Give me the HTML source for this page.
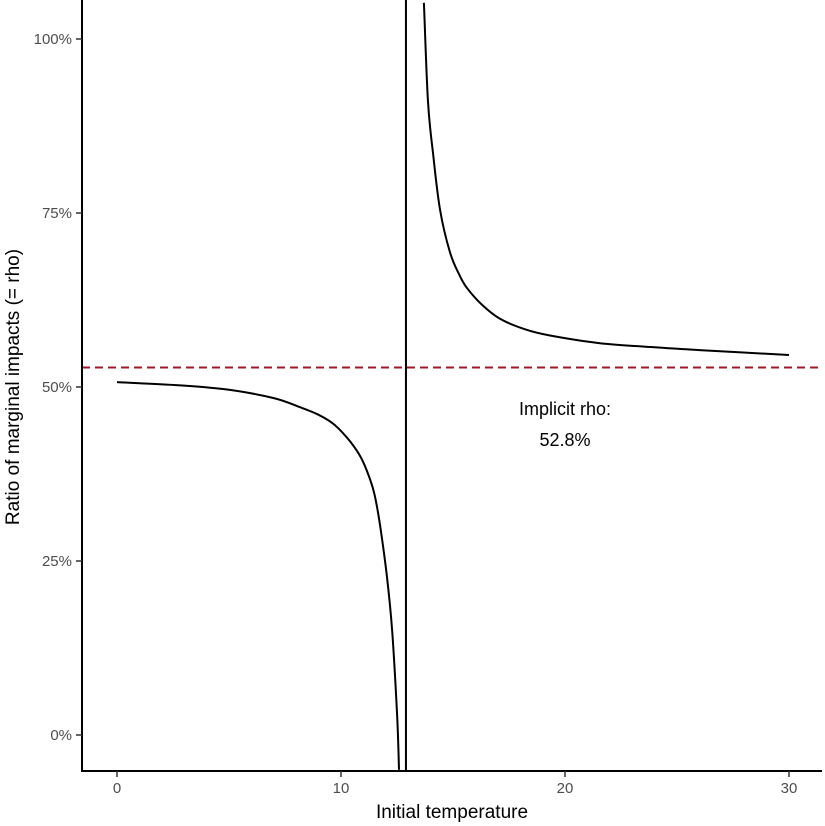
<!DOCTYPE html>
<html><head><meta charset="utf-8"><style>
body{margin:0;background:#fff;}
svg{display:block;font-family:"Liberation Sans",Arial,sans-serif;}
</style></head><body>
<svg id="chart" width="825" height="826" viewBox="0 0 825 826" xmlns="http://www.w3.org/2000/svg">
<defs><clipPath id="plotclip"><rect x="82" y="0" width="740" height="771"/></clipPath></defs>
<g id="marks" clip-path="url(#plotclip)"></g>
<g id="axes"></g>
</svg>
<script>
const leftT = [0, 3, 5, 7, 8.17, 9, 9.7, 10.4, 10.9, 11.29, 11.5, 11.74, 12.05, 12.28, 12.5, 12.59];
const leftRho = [50.7, 50.2, 49.6, 48.4, 47.1, 46.0, 44.6, 42.2, 39.8, 36.8, 34.5, 30.2, 22.8, 15.1, 3.2, -5.0];
const rightT = [13.7, 13.88, 14.11, 14.42, 14.87, 15.3, 15.63, 16.3, 17.1, 18.2, 19.33, 21.56, 24, 26.0, 30];
const rightRho = [105.2, 91.2, 83.5, 75.5, 69.3, 66.0, 64.2, 61.8, 59.8, 58.3, 57.4, 56.3, 55.7, 55.3, 54.6];
const asymptoteT = [12.9];
const implicitRho = [52.8];
const xTicks = [0, 10, 20, 30];
const yTicks = [0, 25, 50, 75, 100];

const NS = "http://www.w3.org/2000/svg";
const xs = t => 117 + t * 22.4;
const ys = p => 735 - p * 6.96;
function mk(tag, attrs, parent, text){
  const e = document.createElementNS(NS, tag);
  for (const k in attrs) e.setAttribute(k, attrs[k]);
  if (text !== undefined) e.textContent = text;
  parent.appendChild(e); return e;
}
const marks = document.getElementById('marks');
const axes = document.getElementById('axes');

function smoothPath(pts){
  let d = 'M' + pts[0][0].toFixed(1) + ',' + pts[0][1].toFixed(1);
  for (let i = 0; i < pts.length - 1; i++){
    const p0 = pts[Math.max(0,i-1)], p1 = pts[i], p2 = pts[i+1], p3 = pts[Math.min(pts.length-1,i+2)];
    const c1x = p1[0] + (p2[0]-p0[0])/6, c1y = p1[1] + (p2[1]-p0[1])/6;
    const c2x = p2[0] - (p3[0]-p1[0])/6, c2y = p2[1] - (p3[1]-p1[1])/6;
    d += ' C' + c1x.toFixed(1)+','+c1y.toFixed(1)+' '+c2x.toFixed(1)+','+c2y.toFixed(1)+' '+p2[0].toFixed(1)+','+p2[1].toFixed(1);
  }
  return d;
}
function curve(T, R, name){
  const pts = T.map((t,i)=>[xs(t), ys(R[i])]);
  const p = mk('path',{d:smoothPath(pts),fill:'none',stroke:'#000','stroke-width':2,'stroke-linejoin':'round'},marks);
  
  
}
curve(leftT, leftRho, 'rho-curve-left');
curve(rightT, rightRho, 'rho-curve-right');

const vl = mk('line',{x1:xs(asymptoteT[0]),x2:xs(asymptoteT[0]),y1:0,y2:771,stroke:'#000','stroke-width':2},marks);


const hl = mk('line',{x1:82,x2:822,y1:ys(implicitRho[0]),y2:ys(implicitRho[0]),stroke:'#a0192b','stroke-width':2,'stroke-dasharray':'8,5'},marks);



const a1 = mk('text',{x:565,y:415,'text-anchor':'middle','font-size':18,fill:'#000'},axes,'Implicit rho:');


const a2 = mk('text',{x:565,y:446,'text-anchor':'middle','font-size':18,fill:'#000'},axes,implicitRho[0].toFixed(1)+'%');



const ya = mk('line',{x1:82,x2:82,y1:0,y2:772,stroke:'#000','stroke-width':2},axes);


const xa = mk('line',{x1:81,x2:822,y1:771,y2:771,stroke:'#000','stroke-width':2},axes);



xTicks.forEach(t=>{
  const tk = mk('line',{x1:xs(t),x2:xs(t),y1:771,y2:777,stroke:'#333','stroke-width':1.5},axes);
  
  
  const lb = mk('text',{x:xs(t),y:793,'text-anchor':'middle','font-size':15,fill:'#4d4d4d'},axes,String(t));
  
  
});
yTicks.forEach(p=>{
  const tk = mk('line',{x1:76,x2:82,y1:ys(p),y2:ys(p),stroke:'#333','stroke-width':1.5},axes);
  
  
  const lb = mk('text',{x:72,y:ys(p)+5,'text-anchor':'end','font-size':15,fill:'#4d4d4d'},axes,p+'%');
  
  
});
const xt = mk('text',{x:452,y:818,'text-anchor':'middle','font-size':19,fill:'#000'},axes,'Initial temperature');


const yt = mk('text',{x:0,y:0,'text-anchor':'middle','font-size':19,fill:'#000',transform:'translate(19,387) rotate(-90)'},axes,'Ratio of marginal impacts (= rho)');


</script>
</body></html>
